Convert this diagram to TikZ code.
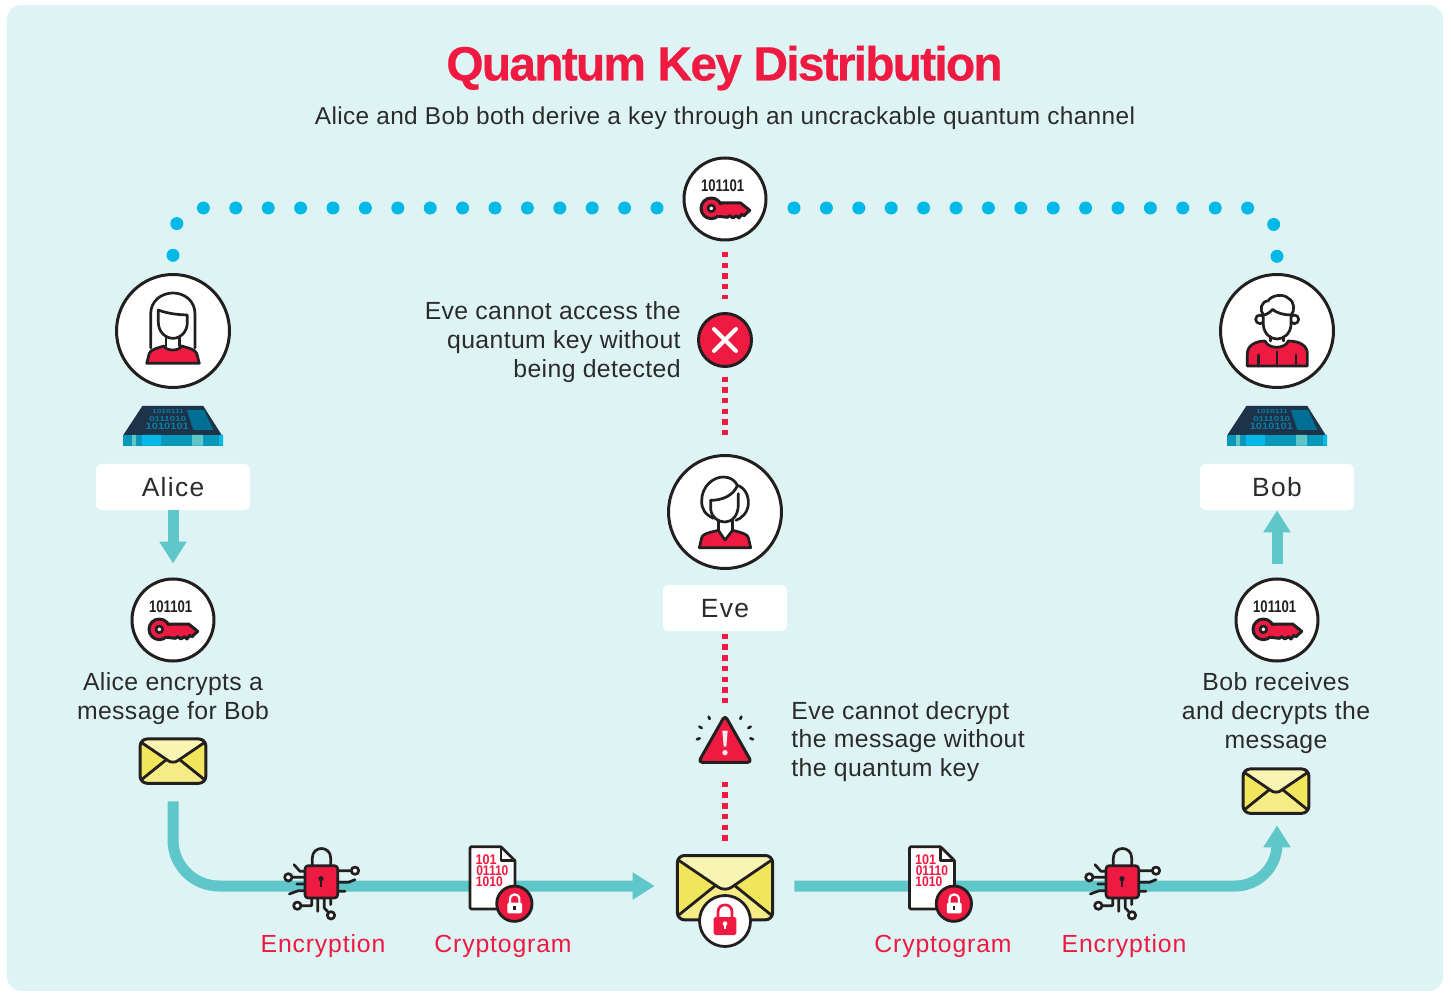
\documentclass[tikz,border=0pt]{standalone}
\usepackage{fontspec}
\setmainfont{Liberation Sans}
\newfontfamily\bodyface[LetterSpace=1.5]{Liberation Sans}
\newfontfamily\tagface[LetterSpace=5]{Liberation Sans}
\newfontfamily\labelface[LetterSpace=3.4]{Liberation Sans}
\newfontfamily\titleface[LetterSpace=-3.8,BoldFeatures={FakeBold=0.5}]{Liberation Sans}
\usetikzlibrary{arrows.meta}
\definecolor{panelbg}{HTML}{DEF4F4}
\definecolor{qred}{HTML}{EF1A41}
\definecolor{qteal}{HTML}{5FC6C9}
\definecolor{qcyan}{HTML}{00B9E7}
\definecolor{qink}{HTML}{231F20}
\definecolor{qtext}{HTML}{2B2B2B}
\definecolor{mailyellow}{HTML}{F1E65B}
\definecolor{mailmid}{HTML}{F5EC85}
\definecolor{mailpale}{HTML}{F8F4B2}
\definecolor{chipnavy}{HTML}{1D3349}
\definecolor{chipscreen}{HTML}{006F94}
\definecolor{chipdark}{HTML}{0797BA}
\definecolor{chiptext}{HTML}{0A7DA3}
\tikzset{
  zoomed/.style 2 args={x=.16667pt,y=-.16667pt,shift={(-#1,-#2)}},
  ink/.style={line width=1.35pt,draw=qink,line join=round,line cap=round},
  badge/.style={circle,draw=qink,fill=white,line width=1.5pt,minimum size=41pt,inner sep=0pt},
  facering/.style={circle,draw=qink,fill=white,line width=1.5pt,minimum size=56.5pt,inner sep=0pt},
  nametag/.style={fill=white,rounded corners=3pt,minimum height=23pt,text=qtext,inner sep=0pt,
    font=\tagface\fontsize{13.2}{15}\selectfont},
  bodytext/.style={text=qtext,inner sep=0pt,font=\bodyface\fontsize{12.4}{14.35}\selectfont},
  redlabel/.style={text=qred,inner sep=0pt,font=\labelface\fontsize{12.4}{14.35}\selectfont},
  holder/.style={inner sep=0pt,minimum width=#1},
  flowline/.style={line width=5.5pt,draw=qteal,-{Triangle[length=11pt,width=13pt]}},
  reddots/.style={line width=2.8pt,draw=qred,dash pattern=on 2.67pt off 2.67pt},
  cyandots/.style={line width=6.5pt,draw=qcyan,line cap=round,dash pattern=on 0pt off 16.2pt,rounded corners=15pt},
  % key under binary digits
  keymark/.pic={
    \begin{scope}[zoomed={338}{148}]
      \node (-bits) [text=qink,inner sep=0pt,font=\fontsize{8.4}{8.4}\selectfont\bfseries] at (331,108) {\scalebox{.78}[1]{101101}};
      \filldraw[ink,line width=1.5pt,fill=qred] (320,160) -- (385,160) -- (412,182) -- (395,198) -- (388,194) -- (380,205) -- (372,198) -- (362,205) -- (352,198) -- (345,203) -- (320,200) -- cycle;
      \filldraw[ink,line width=1.5pt,fill=qred] (297,176) circle (31);
      \fill[qred] (312,165) rectangle (335,196);
      \filldraw[ink,fill=white] (297,176) circle (10);
    \end{scope}
  },
  % envelope
  mailmark/.pic={
    \begin{scope}[zoomed={195}{563}]
      \fill[mailyellow,rounded corners=3.6pt] (52,467) rectangle (338,660);
      \fill[mailmid] (57,645) -- (165,558) -- (225,558) -- (333,645) -- (318,660) -- (72,660) -- cycle;
      \fill[mailpale] (57,482) -- (75,467) -- (315,467) -- (333,482) -- (210,568) -- (180,568) -- cycle;
      \draw[ink,rounded corners=3.6pt,line width=1.5pt] (52,467) rectangle (338,660);
      \draw[ink,line width=1.4pt] (57,482) -- (175,562) .. controls (185,570) and (205,570) .. (215,562) -- (333,482);
      \draw[ink,line width=1.4pt] (57,645) -- (165,558) (225,558) -- (333,645);
    \end{scope}
  },
  % padlock with circuit legs
  lockchip/.pic={
    \begin{scope}[zoomed={153}{157}]
      \draw[ink] (127,108) -- (127,85) .. controls (127,47) and (182,47) .. (182,85) -- (182,108);
      \draw[ink] (203,123) -- (243,123) (205,158) -- (235,158) -- (255,150) (205,185) -- (225,185);
      \draw[ink] (105,125) -- (90,125) -- (72,105) (67,143) -- (105,143) (80,163) -- (105,163) (58,193) -- (85,183) -- (105,183);
      \draw[ink] (182,205) -- (182,225) (163,205) -- (163,235) -- (175,248) (143,205) -- (143,245) (125,205) -- (125,228) -- (95,228);
      \filldraw[ink,fill=white] (255,123) circle (11) (55,143) circle (11) (183,257) circle (11) (82,228) circle (11);
      \filldraw[ink,fill=qred,rounded corners=1.6pt] (105,108) rectangle (203,205);
      \fill[qink] (153,147) circle (8);
      \fill[qink] (150,150) rectangle (157,172);
    \end{scope}
  },
  % sheet with binary digits and lock
  cryptosheet/.pic={
    \begin{scope}[zoomed={668}{143}]
      \filldraw[ink,fill=white,rounded corners=.6pt] (600,50) -- (693,50) -- (735,92) -- (735,237) -- (600,237) -- cycle;
      \draw[ink] (693,50) -- (693,92) -- (735,92);
      \node (-top) [text=qred,inner sep=0pt,font=\fontsize{7}{7}\selectfont\bfseries] at (648,88) {\scalebox{.9}[1]{101}};
      \node (-mid) [text=qred,inner sep=0pt,font=\fontsize{7}{7}\selectfont\bfseries] at (667,122) {\scalebox{.86}[1]{01110}};
      \node (-low) [text=qred,inner sep=0pt,font=\fontsize{7}{7}\selectfont\bfseries] at (658,155) {\scalebox{.86}[1]{1010}};
      \filldraw[ink,fill=qred,line width=1.4pt] (733,221) circle (53);
      \draw[white,line width=1.1pt] (720,220) -- (720,208) .. controls (720,188) and (748,188) .. (748,208) -- (748,220);
      \fill[white,rounded corners=.6pt] (712,218) rectangle (756,250);
      \fill[qink] (730,228) rectangle (737,240);
    \end{scope}
  },
  % solid state chip
  chipmark/.pic={
    \begin{scope}[zoomed={279}{498}]
      \fill[chipnavy] (187,438) -- (370,438) -- (425,525) -- (130,525) -- cycle;
      \fill[chipscreen] (320,450) -- (372,450) -- (400,510) -- (340,510) -- cycle;
      \fill[chipdark] (130,525) rectangle (429,557);
      \fill[qteal] (156,525) rectangle (168,557) (336,525) rectangle (369,557);
      \fill[qcyan] (186,525) rectangle (243,557) (417,525) rectangle (429,557);
      \node (-a) [text=chiptext,inner sep=0pt,font=\fontsize{2.9}{3}\selectfont\bfseries] at (264,456) {\scalebox{1.45}[1]{1010111}};
      \node (-b) [text=chiptext,inner sep=0pt,font=\fontsize{3.6}{4}\selectfont\bfseries] at (263,477) {\scalebox{1.35}[1]{0111010}};
      \node (-c) [text=chiptext,inner sep=0pt,font=\fontsize{4.7}{5}\selectfont\bfseries] at (262,499) {\scalebox{1.18}[1]{1010101}};
    \end{scope}
  },
  alicehead/.pic={
    \begin{scope}[zoomed={279}{211}]
      \draw[ink] (212,262) -- (212,160) .. controls (212,120) and (245,97) .. (279,97) .. controls (313,97) and (345,120) .. (345,160) -- (345,262);
      \filldraw[ink,fill=qred] (200,308) -- (208,278) .. controls (212,268) and (225,264) .. (252,256) .. controls (258,272) and (298,272) .. (304,256) .. controls (335,264) and (345,268) .. (350,278) -- (358,308) -- cycle;
      \draw[ink] (258,228) -- (258,256) (298,228) -- (298,256);
      \filldraw[ink,fill=white] (235,148) .. controls (260,158) and (290,162) .. (322,163) -- (322,185) .. controls (322,215) and (300,233) .. (279,233) .. controls (258,233) and (235,215) .. (235,185) -- cycle;
    \end{scope}
  },
  evehead/.pic={
    \begin{scope}[zoomed={225}{213}]
      \draw[ink] (190,232) .. controls (165,220) and (155,205) .. (155,180) .. controls (155,135) and (190,108) .. (220,108) .. controls (240,108) and (255,118) .. (262,133) .. controls (285,140) and (297,165) .. (295,190) .. controls (293,215) and (275,232) .. (258,238);
      \filldraw[ink,fill=qred] (148,320) -- (155,290) .. controls (158,280) and (170,276) .. (205,268) -- (225,297) -- (248,268) .. controls (280,276) and (292,280) .. (295,290) -- (302,320) -- cycle;
      \draw[ink] (205,238) -- (205,268) (248,238) -- (248,268);
      \draw[ink] (182,178) .. controls (215,178) and (250,165) .. (262,133);
      \draw[ink] (182,178) -- (182,205) .. controls (185,230) and (205,243) .. (225,243) .. controls (245,243) and (265,225) .. (265,190) -- (265,158);
    \end{scope}
  },
  bobhead/.pic={
    \begin{scope}[zoomed={231}{213}]
      \filldraw[ink,fill=qred] (142,318) -- (142,280) .. controls (142,258) and (165,243) .. (195,243) .. controls (205,268) and (255,268) .. (265,243) .. controls (300,243) and (322,258) .. (322,280) -- (322,318) -- cycle;
      \draw[ink] (231,275) -- (231,318) (175,285) -- (175,318) (288,285) -- (288,318);
      \draw[ink] (212,225) -- (212,243) (250,225) -- (250,243);
      \filldraw[ink,fill=white] (180,178) circle (13) (283,178) circle (13);
      \filldraw[ink,fill=white] (190,150) -- (190,195) .. controls (192,222) and (212,237) .. (231,237) .. controls (250,237) and (271,222) .. (273,195) -- (273,150) -- cycle;
      \filldraw[ink,fill=white] (190,165) .. controls (178,150) and (182,125) .. (205,122) .. controls (215,105) and (250,100) .. (265,115) .. controls (285,125) and (285,155) .. (273,165) .. controls (250,165) and (228,158) .. (218,148) .. controls (212,155) and (200,165) .. (190,165) -- cycle;
    \end{scope}
  },
  warnmark/.pic={
    \begin{scope}[zoomed={195}{120}]
      \filldraw[ink,fill=qred,line width=1.5pt,rounded corners=2pt] (195,46) -- (275,187) -- (115,187) -- cycle;
      \fill[white!90!qred] (187,92) -- (203,92) -- (199,140) -- (191,140) -- cycle;
      \fill[white!90!qred] (195,158) circle (8);
      \draw[ink] (146,50) -- (149,57) (118,80) -- (125,84) (111,118) -- (119,115) (244,50) -- (241,57) (272,80) -- (265,84) (279,118) -- (271,115);
    \end{scope}
  },
  redlock/.pic={
    \begin{scope}[zoomed={195}{660}]
      \draw[qred,line width=1.35pt] (174,650) -- (174,632) .. controls (174,605) and (216,605) .. (216,632) -- (216,650);
      \fill[qred,rounded corners=.9pt] (161,648) rectangle (229,702);
      \fill[white] (195,668) circle (7);
      \fill[white] (191,670) rectangle (199,685);
    \end{scope}
  }
}
\begin{document}
\begin{tikzpicture}[x=.5pt,y=-.5pt]
\useasboundingbox (0,0) rectangle (1451,994);
\fill[panelbg,rounded corners=7pt] (7,5) rectangle (1443,991);

%TITLE
\node (title) at (724.5,68) [text=qred,inner sep=0pt,font=\titleface\fontsize{24}{24}\selectfont\bfseries] {Quantum Key Distribution};
\node (subtitle) at (725,118) [bodytext,font=\bodyface\fontsize{12.2}{14.35}\selectfont] {Alice and Bob both derive a key through an uncrackable quantum channel};

%MAIN NODES
\node (keytop) at (725,199) [badge] {};
\node (stopmark) at (725,340) [circle,draw=qink,fill=qred,line width=1.5pt,minimum size=26.5pt,inner sep=0pt] {};
\node (evering) at (725,512) [facering] {};
\node (evetag) at (725,608) [nametag,minimum width=62pt,text depth=0pt] {\raisebox{-.5pt}{Eve}};
\node (warnsign) at (725,740) [holder=26pt,minimum height=23pt] {};
\node (mailbig) at (725,886) [holder=48pt,minimum height=32pt] {};

\node (alicering) at (173,331) [facering] {};
\node (alicetag) at (173,487) [nametag,minimum width=77pt] {\raisebox{-.5pt}{Alice}};
\node (keyleft) at (173,620) [badge] {};
\node (letteralice) at (173,761) [holder=33pt,minimum height=22pt] {};

\node (bobring) at (1277,331) [facering] {};
\node (bobtag) at (1277,487) [nametag,minimum width=77pt] {\raisebox{-.5pt}{Bob}};
\node (keyright) at (1277,620) [badge] {};
\node (letterbob) at (1277,791) [holder=33pt,minimum height=22pt] {};

%TEXTS
\node (evekey) at (681,342) [bodytext,anchor=east,align=right] {Eve cannot access the\\quantum key without\\being detected};
\node (evemsg) at (791,741.5) [bodytext,anchor=west,align=left] {Eve cannot decrypt\\the message without\\the quantum key};
\node (alicemsg) at (173,698.5) [bodytext,align=center] {Alice encrypts a\\message for Bob};
\node (bobmsg) at (1276,713) [bodytext,align=center] {Bob receives\\and decrypts the\\message};
\node (enclabel) at (323,946) [redlabel] {Encryption};
\node (cryptlabel) at (503,946) [redlabel] {Cryptogram};
\node (cryptlabelb) at (943,946) [redlabel] {Cryptogram};
\node (enclabelb) at (1124,946) [redlabel] {Encryption};

%CONNECTORS
\coordinate (dotleftstart) at (657,208);
\coordinate (dotleftend) at (173,256);
\coordinate (dotrightstart) at (794,208);
\coordinate (dotrightend) at (1277,262);
\draw[cyandots] (dotleftstart) -| (dotleftend);
\draw[cyandots] (dotrightstart) -| (dotrightend);
\draw[reddots,shorten <=5.3pt,shorten >=6.5pt] (keytop.south) -- (stopmark.north);
\draw[reddots,shorten <=4.3pt,shorten >=9pt] (stopmark.south) -- (evering.north);
\draw[reddots,shorten <=1.2pt,shorten >=7pt] (evetag.south) -- (warnsign.north);
\draw[reddots,shorten <=9.2pt,shorten >=6.5pt] (warnsign.south) -- (mailbig.north);
\draw[flowline,shorten >=7pt] (alicetag.south) -- (keyleft.north);
\draw[flowline,shorten <=7pt] (keyright.north) -- (bobtag.south);
\draw[flowline,rounded corners=23pt,shorten <=9pt,shorten >=11pt] (letteralice.south) |- (mailbig.west);
\draw[flowline,rounded corners=21pt,shorten <=10.5pt,shorten >=6pt] (mailbig.east) -| (letterbob.south);

%ICONS
\pic (keya) at (keytop) {keymark};
\pic (keyb) at (keyleft) {keymark};
\pic (keyc) at (keyright) {keymark};
\pic at (alicering) {alicehead};
\pic at (evering) {evehead};
\pic at (bobring) {bobhead};
\pic (chipa) at (173,426) {chipmark};
\pic (chipb) at (1277,426) {chipmark};
\draw[white,line width=2pt,line cap=round] (stopmark.center) ++(-11,-11) -- ++(22,22) ++(0,-22) -- ++(-22,22);
\pic at (warnsign) {warnmark};
\pic[scale=.69] at (letteralice) {mailmark};
\pic[scale=.69] at (1276,791) {mailmark};
\pic at (725,887.5) {mailmark};
\node (lockdisc) at (725,921) [circle,draw=qink,fill=white,line width=1.4pt,minimum size=25.5pt,inner sep=0pt] {};
\pic at (lockdisc) {redlock};
\pic at (321,882) {lockchip};
\pic at (1122,882) {lockchip};
\pic (sheeta) at (492.7,877.7) {cryptosheet};
\pic (sheetb) at (932.2,877.7) {cryptosheet};
\end{tikzpicture}
\end{document}
